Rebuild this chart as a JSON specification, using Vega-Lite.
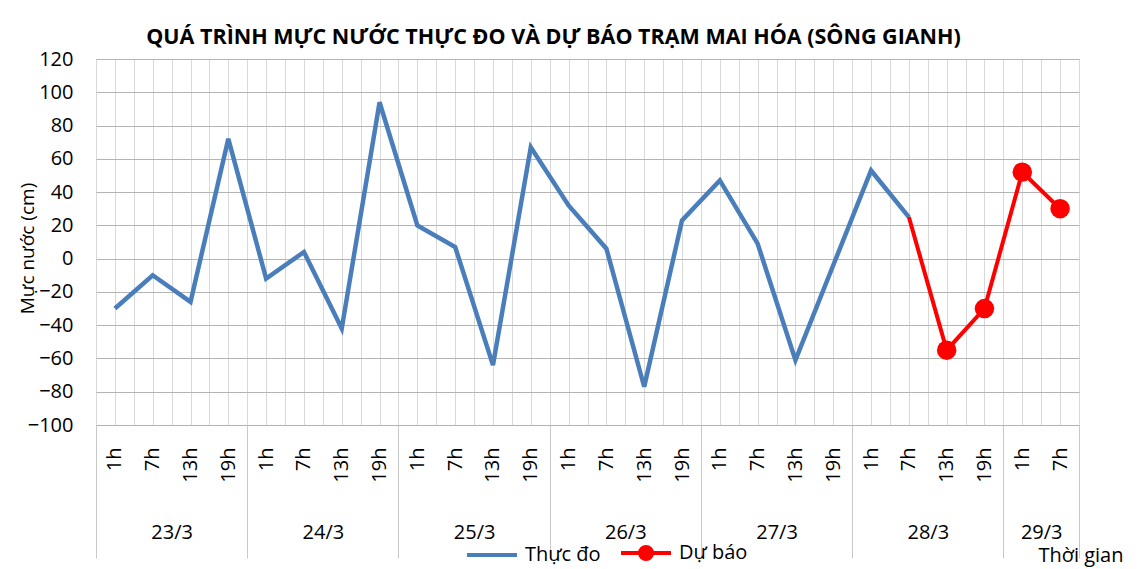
{
  "$schema": "https://vega.github.io/schema/vega-lite/v6.json",
  "width": 983,
  "height": 366,
  "autosize": "none",
  "padding": {"left": 96, "top": 59, "right": 63, "bottom": 144},
  "background": "white",
  "title": {
    "text": "QUÁ TRÌNH MỰC NƯỚC THỰC ĐO VÀ DỰ BÁO TRẠM MAI HÓA (SÔNG GIANH)",
    "font": "Open Sans",
    "fontSize": 21.5,
    "fontWeight": "bold",
    "color": "#000000",
    "anchor": "middle",
    "dx": -34,
    "offset": 1
  },
  "data": {
    "values": [
      {"i": 0, "ngay": "23/3", "gio": "1h", "muc": -30, "loai": "Thực đo"},
      {"i": 1, "ngay": "23/3", "gio": "7h", "muc": -10, "loai": "Thực đo"},
      {"i": 2, "ngay": "23/3", "gio": "13h", "muc": -26, "loai": "Thực đo"},
      {"i": 3, "ngay": "23/3", "gio": "19h", "muc": 72, "loai": "Thực đo"},
      {"i": 4, "ngay": "24/3", "gio": "1h", "muc": -12, "loai": "Thực đo"},
      {"i": 5, "ngay": "24/3", "gio": "7h", "muc": 4, "loai": "Thực đo"},
      {"i": 6, "ngay": "24/3", "gio": "13h", "muc": -42, "loai": "Thực đo"},
      {"i": 7, "ngay": "24/3", "gio": "19h", "muc": 94, "loai": "Thực đo"},
      {"i": 8, "ngay": "25/3", "gio": "1h", "muc": 20, "loai": "Thực đo"},
      {"i": 9, "ngay": "25/3", "gio": "7h", "muc": 7, "loai": "Thực đo"},
      {"i": 10, "ngay": "25/3", "gio": "13h", "muc": -64, "loai": "Thực đo"},
      {"i": 11, "ngay": "25/3", "gio": "19h", "muc": 67, "loai": "Thực đo"},
      {"i": 12, "ngay": "26/3", "gio": "1h", "muc": 32, "loai": "Thực đo"},
      {"i": 13, "ngay": "26/3", "gio": "7h", "muc": 6, "loai": "Thực đo"},
      {"i": 14, "ngay": "26/3", "gio": "13h", "muc": -77, "loai": "Thực đo"},
      {"i": 15, "ngay": "26/3", "gio": "19h", "muc": 23, "loai": "Thực đo"},
      {"i": 16, "ngay": "27/3", "gio": "1h", "muc": 47, "loai": "Thực đo"},
      {"i": 17, "ngay": "27/3", "gio": "7h", "muc": 9, "loai": "Thực đo"},
      {"i": 18, "ngay": "27/3", "gio": "13h", "muc": -61, "loai": "Thực đo"},
      {"i": 19, "ngay": "27/3", "gio": "19h", "muc": -4, "loai": "Thực đo"},
      {"i": 20, "ngay": "28/3", "gio": "1h", "muc": 53, "loai": "Thực đo"},
      {"i": 21, "ngay": "28/3", "gio": "7h", "muc": 25, "loai": "Thực đo"},
      {"i": 21, "ngay": "28/3", "gio": "7h", "muc": 25, "loai": "Dự báo"},
      {"i": 22, "ngay": "28/3", "gio": "13h", "muc": -55, "loai": "Dự báo"},
      {"i": 23, "ngay": "28/3", "gio": "19h", "muc": -30, "loai": "Dự báo"},
      {"i": 24, "ngay": "29/3", "gio": "1h", "muc": 52, "loai": "Dự báo"},
      {"i": 25, "ngay": "29/3", "gio": "7h", "muc": 30, "loai": "Dự báo"}
    ]
  },
  "config": {
    "view": {"stroke": "#bfbfbf"},
    "axis": {"labelFont": "Open Sans", "titleFont": "Open Sans", "labelColor": "#000000", "titleColor": "#000000"},
    "legend": {"labelFont": "Open Sans", "labelColor": "#000000"}
  },
  "encoding": {
    "y": {
      "field": "muc",
      "type": "quantitative",
      "scale": {"domain": [-100, 120], "nice": false, "zero": false},
      "axis": {
        "values": [-100, -80, -60, -40, -20, 0, 20, 40, 60, 80, 100, 120],
        "labelFontSize": 20,
        "labelPadding": 23,
        "ticks": false,
        "domain": false,
        "grid": true,
        "gridColor": "#b4b4b4",
        "title": "Mực nước (cm)",
        "titleFontSize": 19,
        "titleFontWeight": "normal",
        "titleX": -69,
        "titleY": 189,
        "titleAngle": 270,
        "titleAlign": "center",
        "titleBaseline": "middle"
      }
    },
    "color": {
      "field": "loai",
      "type": "nominal",
      "scale": {"domain": ["Thực đo", "Dự báo"], "range": ["#4a7ebb", "#ff0000"]},
      "legend": {
        "title": null,
        "orient": "none",
        "legendX": 369,
        "legendY": 467,
        "direction": "horizontal",
        "symbolType": "stroke",
        "symbolSize": 2500,
        "symbolStrokeWidth": 4,
        "labelFontSize": 20,
        "labelOffset": 6,
        "columnPadding": 12,
        "encode": {
          "symbols": {
            "update": {
              "shape": {"signal": "datum.value === 'Dự báo' ? 'M-1,0H1M0.24,0A0.24,0.24,0,1,1,-0.24,0A0.24,0.24,0,1,1,0.24,0Z' : 'stroke'"},
              "fill": {"signal": "datum.value === 'Dự báo' ? '#ff0000' : 'transparent'"},
              "stroke": {"signal": "datum.value === 'Dự báo' ? '#ff0000' : '#4a7ebb'"},
              "opacity": {"value": 1}
            }
          }
        }
      }
    }
  },
  "layer": [
    {
      "transform": [{"filter": "datum.loai === 'Thực đo'"}],
      "mark": {"type": "line", "strokeWidth": 4.5},
      "encoding": {
        "x": {
          "field": "i",
          "type": "quantitative",
          "scale": {"domain": [-0.5, 25.5], "nice": false, "zero": false},
          "axis": {
            "orient": "bottom",
            "values": [0, 1, 2, 3, 4, 5, 6, 7, 8, 9, 10, 11, 12, 13, 14, 15, 16, 17, 18, 19, 20, 21, 22, 23, 24, 25],
            "labelExpr": "['1h','7h','13h','19h'][datum.value % 4]",
            "labelAngle": 270,
            "labelAlign": "right",
            "labelBaseline": "middle",
            "labelPadding": 22,
            "labelFontSize": 20,
            "labelOverlap": false,
            "labelFlush": false,
            "ticks": false,
            "domain": false,
            "grid": true,
            "gridColor": "#d9d9d9",
            "title": null
          }
        }
      }
    },
    {
      "transform": [{"filter": "datum.loai === 'Dự báo'"}],
      "mark": {"type": "line", "strokeWidth": 4},
      "encoding": {
        "x": {
          "field": "i",
          "type": "quantitative",
          "axis": {
            "orient": "bottom",
            "values": [-0.5, 0.5, 1.5, 2.5, 3.5, 4.5, 5.5, 6.5, 7.5, 8.5, 9.5, 10.5, 11.5, 12.5, 13.5, 14.5, 15.5, 16.5, 17.5, 18.5, 19.5, 20.5, 21.5, 22.5, 23.5, 24.5, 25.5],
            "labelExpr": "indexof([1.5,5.5,9.5,13.5,17.5,21.5,24.5], datum.value) >= 0 ? ['23/3','24/3','25/3','26/3','27/3','28/3','29/3'][indexof([1.5,5.5,9.5,13.5,17.5,21.5,24.5], datum.value)] : ''",
            "labelAngle": 0,
            "labelAlign": "center",
            "labelBaseline": "top",
            "labelPadding": 97,
            "labelFontSize": 20,
            "labelOverlap": false,
            "labelFlush": false,
            "ticks": false,
            "domain": false,
            "grid": true,
            "gridColor": "#d9d9d9",
            "title": null
          }
        }
      }
    },
    {
      "transform": [{"filter": "datum.loai === 'Dự báo' && datum.i >= 22"}],
      "mark": {"type": "point", "filled": true, "size": 380, "opacity": 1},
      "encoding": {
        "x": {
          "field": "i",
          "type": "quantitative",
          "axis": {
            "orient": "bottom",
            "values": [-0.5, 3.5, 7.5, 11.5, 15.5, 19.5, 23.5, 25.5],
            "labels": false,
            "ticks": true,
            "tickSize": 133,
            "tickColor": "#c8c8c8",
            "tickWidth": 1,
            "domain": false,
            "grid": false,
            "title": "Thời gian",
            "titleFontSize": 20,
            "titleFontWeight": "normal",
            "titleX": 1027,
            "titleY": 136,
            "titleAlign": "right",
            "titleBaseline": "alphabetic"
          }
        }
      }
    }
  ],
  "resolve": {"axis": {"x": "independent"}}
}
